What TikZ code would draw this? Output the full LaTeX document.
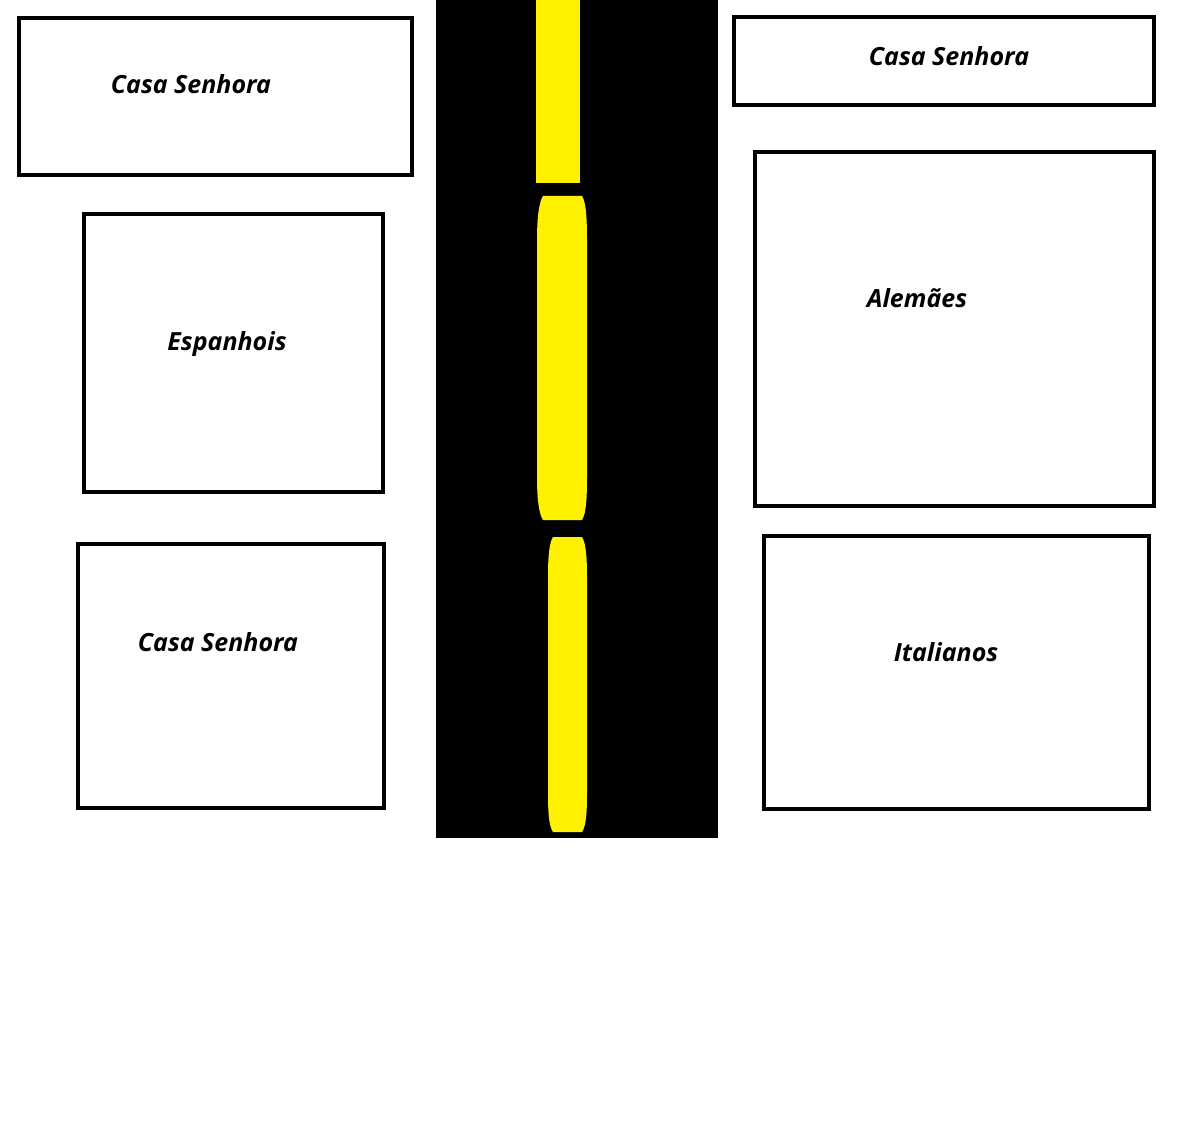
\documentclass[tikz,border=0pt]{standalone}
\usepackage{fontspec}
\setmainfont{Open Sans}
\definecolor{roadyellow}{RGB}{255,242,0}
\begin{document}
\begin{tikzpicture}[x=1pt,y=-1pt,
  lot/.style={draw=black,line width=4pt,fill=white},
  lbl/.style={font=\fontsize{25}{28}\selectfont\itshape\bfseries,text=black,inner sep=0pt},
  stripe/.style={fill=roadyellow,draw=none}]
\useasboundingbox (0,0) rectangle (1179,1137);
\fill[white] (0,0) rectangle (1179,1137);
% road
\fill[black] (436,0) rectangle (718,838);
\fill[stripe] (536,0) rectangle (580,183);
\fill[stripe] (543,196) -- (582,196) .. controls (586,202) and (587,218) .. (587,240) -- (587,476) .. controls (587,500) and (586,514) .. (582,520) -- (543,520) .. controls (539,514) and (537,500) .. (537,476) -- (537,240) .. controls (537,218) and (539,202) .. (543,196) -- cycle;
\fill[stripe] (553,537) -- (582,537) .. controls (586,543) and (587,558) .. (587,578) -- (587,792) .. controls (587,814) and (586,826) .. (582,832) -- (553,832) .. controls (549,826) and (548,814) .. (548,792) -- (548,578) .. controls (548,558) and (549,543) .. (553,537) -- cycle;
% lots
\draw[lot] (19,18) rectangle (412,175);
\draw[lot] (84,214) rectangle (383,492);
\draw[lot] (78,544) rectangle (384,808);
\draw[lot] (734,17) rectangle (1154,105);
\draw[lot] (755,152) rectangle (1154,506);
\draw[lot] (764,536) rectangle (1149,809);
% labels
\node[lbl] (t1) at (191,84) {Casa Senhora};
\node[lbl] (t2) at (227,344) {Espanhois};
\node[lbl] (t3) at (218,642) {Casa Senhora};
\node[lbl] (t4) at (949,56) {Casa Senhora};
\node[lbl] (t5) at (917,298) {Alemães};
\node[lbl] (t6) at (946,652) {Italianos};
\end{tikzpicture}
\end{document}
